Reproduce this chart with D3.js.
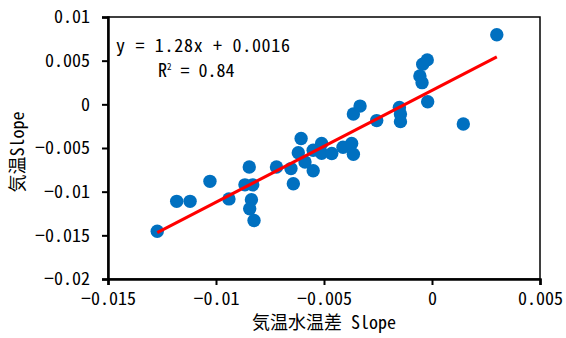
<!DOCTYPE html>
<html>
<head>
<meta charset="utf-8">
<script src="https://cdn.jsdelivr.net/npm/d3@7"></script>
<style>
  body { margin: 0; background: #fff; }
  svg text { font-family: "Noto Sans Mono CJK JP", "Liberation Mono", monospace; fill: #000; }
</style>
</head>
<body>
<div id="chart"></div>
<script>
/*
 * DATA
 */
var xVals = [-0.01272, -0.01182, -0.01120, -0.01028, -0.00940, -0.00846, -0.00866, -0.00830,
  -0.00836, -0.00844, -0.00824, -0.00720, -0.00653, -0.00642, -0.00619, -0.00606, -0.00588,
  -0.00550, -0.00550, -0.00511, -0.00511, -0.00464, -0.00412, -0.00372, -0.00364, -0.00364,
  -0.00333, -0.00256, -0.00151, -0.00146, -0.00146, -0.00056, -0.00046, -0.00043, -0.00022,
  -0.00020, 0.00145, 0.00300];
var yVals = [-0.01453, -0.01111, -0.01111, -0.00882, -0.01083, -0.00717, -0.00922, -0.00922,
  -0.01092, -0.01195, -0.01330, -0.00717, -0.00736, -0.00910, -0.00554, -0.00391, -0.00660,
  -0.00761, -0.00525, -0.00448, -0.00560, -0.00563, -0.00491, -0.00448, -0.00571, -0.00111,
  -0.00020, -0.00186, -0.00037, -0.00111, -0.00198, 0.00325, 0.00248, 0.00460, 0.00509,
  0.00030, -0.00226, 0.00797];
var xTicks = [-0.015, -0.01, -0.005, 0, 0.005];
var yTicks = [-0.02, -0.015, -0.01, -0.005, 0, 0.005, 0.01];
var fitSlope = 1.28, fitIntercept = 0.0016;
var xLabel = "気温水温差 Slope";
var yLabel = "気温Slope";

/*
 * LAYOUT
 */
var W = 566, H = 338;
var m = {left: 108, right: 26, top: 17, bottom: 59};

var svg = d3.select('#chart').append('svg').attr('width', W).attr('height', H);

var x = d3.scaleLinear().domain([-0.015, 0.005]).range([m.left, W - m.right]);
var y = d3.scaleLinear().domain([-0.02, 0.01]).range([H - m.bottom, m.top]);

function fmt(v) {
  if (v === 0) return '0';
  return (v < 0 ? '\u2212' : '') + String(Math.abs(v));
}

// frame (top / right)
svg.append('rect')
  .attr('x', m.left).attr('y', m.top)
  .attr('width', x.range()[1] - m.left).attr('height', y.range()[0] - m.top)
  .attr('fill', 'none').attr('stroke', '#000').attr('stroke-width', 1.5);

var xAxis = svg.append('g')
  .attr('transform', 'translate(0,' + y.range()[0] + ')')
  .call(d3.axisBottom(x).tickValues(xTicks).tickFormat(fmt).tickSize(6).tickPadding(7));
var yAxis = svg.append('g')
  .attr('transform', 'translate(' + m.left + ',0)')
  .call(d3.axisLeft(y).tickValues(yTicks).tickFormat(fmt).tickSize(6).tickPadding(12));

[xAxis, yAxis].forEach(function (g) {
  g.select('.domain').attr('stroke', '#000').attr('stroke-width', 2.5);
  g.selectAll('.tick line').attr('stroke', '#000').attr('stroke-width', 2);
  g.selectAll('.tick text').attr('font-size', 18)
    .attr('font-family', null).attr('fill', '#000');
});

// points
svg.append('g').selectAll('circle')
  .data(d3.range(xVals.length))
  .join('circle')
  .attr('cx', function (i) { return x(xVals[i]); })
  .attr('cy', function (i) { return y(yVals[i]); })
  .attr('r', 6.7)
  .attr('fill', '#0070C0');

// trend line
var x0 = d3.min(xVals), x1 = d3.max(xVals);
svg.append('line')
  .attr('x1', x(x0)).attr('y1', y(fitSlope * x0 + fitIntercept))
  .attr('x2', x(x1)).attr('y2', y(fitSlope * x1 + fitIntercept))
  .attr('stroke', '#FF0000').attr('stroke-width', 3);

// equation
svg.append('text').attr('x', 116).attr('y', 52).attr('font-size', 18)
  .attr('textLength', 174)
  .text('y = 1.28x + 0.0016');
var r2 = svg.append('text').attr('x', 158).attr('y', 77).attr('font-size', 18);
r2.append('tspan').text('R');
r2.append('tspan').attr('font-size', 9).attr('dy', -7).text('2');
r2.append('tspan').attr('dy', 7).text(' = 0.84');

// axis titles
svg.append('text')
  .attr('x', (x.range()[0] + x.range()[1]) / 2).attr('y', 329)
  .attr('text-anchor', 'middle').attr('font-size', 18)
  .text(xLabel);
svg.append('text')
  .attr('transform', 'translate(24,152) rotate(-90)')
  .attr('text-anchor', 'middle').attr('font-size', 18)
  .text(yLabel);
</script>
</body>
</html>
